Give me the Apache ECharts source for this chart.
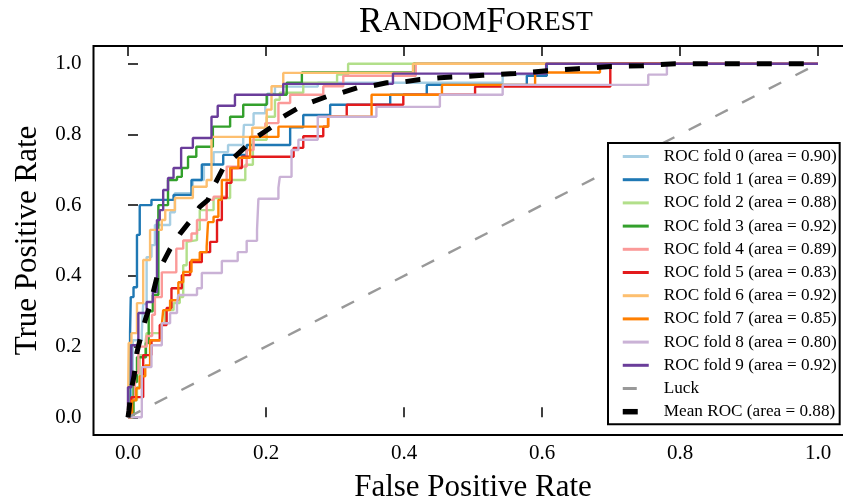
<!DOCTYPE html>
<html>
<head>
<meta charset="utf-8">
<script src="https://cdn.jsdelivr.net/npm/echarts@6/dist/echarts.min.js"></script>
<style>
  html, body { margin: 0; padding: 0; background: #fff; }
  #chart { width: 843px; height: 503px; }
</style>
</head>
<body>
<div id="chart"></div>
<script>
// Tick positions shared by both axes
const tickValues = [0.0, 0.2, 0.4, 0.6, 0.8, 1.0];

// Area under each fold's ROC curve
const foldAuc = [0.90, 0.89, 0.88, 0.92, 0.89, 0.83, 0.92, 0.85, 0.80, 0.92];
const meanAuc = 0.88;

// ROC points per fold as [false positive rate, true positive rate];
// each point is where the curve rises to that TPR.
const fold0 = [[0,0],[0.004,0.105],[0.007,0.218],[0.02,0.24],[0.022,0.32],[0.027,0.453],[0.034,0.487],[0.039,0.544],[0.061,0.58],[0.068,0.634],[0.094,0.671],[0.11,0.714],[0.124,0.75],[0.145,0.77],[0.167,0.79],[0.168,0.827],[0.182,0.86],[0.199,0.886],[0.202,0.915],[0.213,0.935],[0.275,0.946],[0.543,0.97],[0.607,1.0],[1,1]];
const fold1 = [[0,0],[0.003,0.24],[0.004,0.34],[0.008,0.368],[0.013,0.516],[0.017,0.6],[0.034,0.615],[0.066,0.629],[0.092,0.671],[0.107,0.715],[0.138,0.742],[0.172,0.77],[0.235,0.82],[0.254,0.855],[0.293,0.884],[0.38,0.912],[0.433,0.94],[0.578,0.966],[0.607,1.0],[1,1]];
const fold2 = [[0,0],[0.007,0.048],[0.013,0.085],[0.017,0.176],[0.025,0.204],[0.027,0.238],[0.049,0.266],[0.054,0.303],[0.066,0.323],[0.075,0.34],[0.08,0.43],[0.085,0.496],[0.087,0.501],[0.1,0.53],[0.104,0.586],[0.124,0.62],[0.148,0.671],[0.17,0.714],[0.181,0.785],[0.201,0.85],[0.213,0.898],[0.22,0.918],[0.254,0.946],[0.303,0.969],[0.319,1.0],[1,1]];
const fold3 = [[0,0],[0.008,0.1],[0.013,0.17],[0.026,0.21],[0.03,0.3],[0.036,0.346],[0.044,0.6],[0.058,0.671],[0.071,0.68],[0.078,0.705],[0.087,0.737],[0.099,0.765],[0.123,0.822],[0.148,0.85],[0.167,0.884],[0.201,0.912],[0.23,0.946],[0.252,0.975],[0.414,1.0],[1,1]];
const fold4 = [[0,0],[0.005,0.05],[0.01,0.125],[0.015,0.2],[0.027,0.23],[0.035,0.29],[0.039,0.34],[0.049,0.41],[0.07,0.477],[0.08,0.5],[0.092,0.52],[0.1,0.558],[0.114,0.615],[0.124,0.624],[0.143,0.709],[0.172,0.756],[0.182,0.794],[0.199,0.832],[0.218,0.889],[0.235,0.912],[0.283,0.936],[0.312,0.966],[0.417,1.0],[1,1]];
const fold5 = [[0,0],[0.005,0.057],[0.022,0.176],[0.034,0.218],[0.046,0.261],[0.056,0.309],[0.063,0.365],[0.078,0.402],[0.09,0.439],[0.107,0.467],[0.119,0.496],[0.129,0.558],[0.136,0.62],[0.143,0.663],[0.15,0.705],[0.165,0.737],[0.24,0.762],[0.254,0.795],[0.283,0.822],[0.29,0.85],[0.317,0.884],[0.399,0.912],[0.503,0.935],[0.699,1.0],[1,1]];
const fold6 = [[0,0],[0.001,0.21],[0.005,0.238],[0.013,0.323],[0.022,0.445],[0.032,0.53],[0.049,0.558],[0.054,0.586],[0.068,0.62],[0.094,0.652],[0.114,0.671],[0.121,0.793],[0.18,0.819],[0.201,0.87],[0.208,0.936],[0.225,0.974],[0.413,1.0],[1,1]];
const fold7 = [[0,0],[0.006,0.048],[0.012,0.082],[0.017,0.116],[0.025,0.147],[0.032,0.218],[0.049,0.261],[0.051,0.303],[0.061,0.331],[0.073,0.382],[0.08,0.411],[0.092,0.445],[0.104,0.467],[0.114,0.482],[0.116,0.552],[0.124,0.567],[0.131,0.615],[0.136,0.671],[0.148,0.705],[0.16,0.734],[0.177,0.793],[0.218,0.822],[0.29,0.85],[0.353,0.912],[0.455,0.94],[0.59,0.975],[0.684,1.0],[1,1]];
const fold8 = [[0,0],[0.02,0.142],[0.034,0.204],[0.049,0.266],[0.061,0.295],[0.071,0.323],[0.073,0.346],[0.1,0.365],[0.107,0.408],[0.136,0.442],[0.159,0.467],[0.172,0.499],[0.187,0.53],[0.189,0.618],[0.218,0.649],[0.22,0.68],[0.237,0.756],[0.247,0.785],[0.275,0.85],[0.36,0.878],[0.452,0.912],[0.543,0.94],[0.754,0.969],[0.781,1.0],[1,1]];
const fold9 = [[0,0],[0,0.085],[0.005,0.204],[0.015,0.295],[0.027,0.326],[0.036,0.354],[0.042,0.558],[0.046,0.586],[0.051,0.643],[0.058,0.677],[0.066,0.705],[0.077,0.762],[0.094,0.79],[0.121,0.85],[0.13,0.881],[0.155,0.912],[0.225,0.943],[0.384,0.972],[0.606,1.0],[1,1]];

// Mean ROC across folds (interpolated on a common FPR grid)
const meanRoc = [[0,0],[0.0015,0.02],[0.004,0.071],[0.009,0.119],[0.013,0.184],[0.019,0.232],[0.025,0.275],[0.032,0.317],[0.042,0.397],[0.049,0.431],[0.061,0.476],[0.075,0.518],[0.09,0.555],[0.104,0.595],[0.116,0.615],[0.126,0.66],[0.138,0.705],[0.155,0.737],[0.172,0.768],[0.187,0.793],[0.209,0.822],[0.225,0.85],[0.245,0.873],[0.264,0.89],[0.288,0.907],[0.31,0.918],[0.332,0.932],[0.355,0.938],[0.375,0.946],[0.401,0.949],[0.423,0.955],[0.452,0.96],[0.514,0.967],[0.561,0.972],[0.607,0.98],[0.652,0.986],[0.699,0.992],[0.746,0.994],[0.793,1.0],[1.0,1.0]];

// Chance diagonal
const luck = [[0, 0], [1, 1]];

const folds = [fold0, fold1, fold2, fold3, fold4, fold5, fold6, fold7, fold8, fold9];
const foldColors = ['#a6cee3', '#1f78b4', '#b2df8a', '#33a02c', '#fb9a99',
                    '#e31a1c', '#fdbf6f', '#ff7f00', '#cab2d6', '#6a3d9a'];

const SERIF = '"Liberation Serif", "DejaVu Serif", serif';

const foldNames = folds.map((_, i) => 'ROC fold ' + i + ' (area = ' + foldAuc[i].toFixed(2) + ')');
const meanName = 'Mean ROC (area = ' + meanAuc.toFixed(2) + ')';

const series = folds.map((data, i) => ({
  type: 'line',
  name: foldNames[i],
  data: data,
  step: 'end',
  symbol: 'none',
  clip: false,
  lineStyle: { color: foldColors[i], width: 2.4 },
  itemStyle: { color: foldColors[i] },
  z: 2
}));

series.push({
  type: 'line',
  name: 'Luck',
  data: luck,
  symbol: 'none',
  lineStyle: { color: '#999999', width: 2.4, type: [14, 16] },
  itemStyle: { color: '#999999' },
  z: 3
});

series.push({
  type: 'line',
  name: meanName,
  data: meanRoc,
  symbol: 'none',
  lineStyle: { color: '#000000', width: 5, type: [15, 17] },
  itemStyle: { color: '#000000' },
  z: 4
});

// Legend entries: solid swatches for the folds, short dashes for Luck and the mean
const legendData = foldNames.map(n => ({ name: n, lineStyle: { width: 3 } }))
  .concat([
    { name: 'Luck', lineStyle: { width: 3 } },
    { name: meanName, lineStyle: { width: 5.5 } }
  ]);

const tickStyle = { show: true, inside: true, length: 10, customValues: tickValues,
                    lineStyle: { color: '#000', width: 1.5 } };
const labelStyle = { fontFamily: SERIF, fontSize: 21, color: '#000' };

const chart = echarts.init(document.getElementById('chart'), null, { renderer: 'canvas' });
chart.setOption({
  animation: false,
  backgroundColor: '#fff',
  grid: {
    left: 93.5, top: 46, width: 759, height: 389,
    outerBoundsMode: 'none', containLabel: false,
    show: true, borderColor: '#000', borderWidth: 2, backgroundColor: 'transparent'
  },
  xAxis: [{
    type: 'value', min: -0.05, max: 1.05, position: 'bottom',
    axisLine: { show: false }, splitLine: { show: false },
    axisTick: tickStyle,
    axisLabel: Object.assign({ customValues: tickValues, margin: 8,
                               formatter: v => v.toFixed(1) }, labelStyle),
    name: 'False Positive Rate', nameLocation: 'middle', nameGap: 37,
    nameTextStyle: { fontFamily: SERIF, fontSize: 31, color: '#000' }
  }, {
    type: 'value', min: -0.05, max: 1.05, position: 'top',
    axisLine: { show: false }, splitLine: { show: false },
    axisTick: tickStyle, axisLabel: { show: false }
  }],
  yAxis: [{
    type: 'value', min: -0.05, max: 1.05, position: 'left',
    axisLine: { show: false }, splitLine: { show: false },
    axisTick: tickStyle,
    axisLabel: Object.assign({ customValues: tickValues, margin: 12,
                               formatter: v => v.toFixed(1) }, labelStyle),
    name: 'True Positive Rate', nameLocation: 'middle', nameGap: 50,
    nameTextStyle: { fontFamily: SERIF, fontSize: 31, color: '#000' }
  }],
  legend: {
    orient: 'vertical', left: 608, top: 143,
    itemWidth: 26, itemHeight: 14, itemGap: 6.2,
    padding: [5, 3, 4, 12],
    borderColor: '#000', borderWidth: 2, borderRadius: 0, backgroundColor: '#fff',
    itemStyle: { opacity: 0 },
    textStyle: { fontFamily: SERIF, fontSize: 17.2, lineHeight: 17, color: '#000',
                 padding: [0, 0, 0, 10] },
    data: legendData,
    selectedMode: false
  },
  graphic: [{
    type: 'text', x: 476, y: 40, z: 10,
    style: {
      text: '{a|R}{b|ANDOM}{a|F}{b|OREST}',
      align: 'center', verticalAlign: 'bottom',
      rich: {
        a: { fontFamily: SERIF, fontSize: 35, fill: '#000' },
        b: { fontFamily: SERIF, fontSize: 27.5, fill: '#000' }
      }
    }
  }],
  series: series
});
</script>
</body>
</html>
